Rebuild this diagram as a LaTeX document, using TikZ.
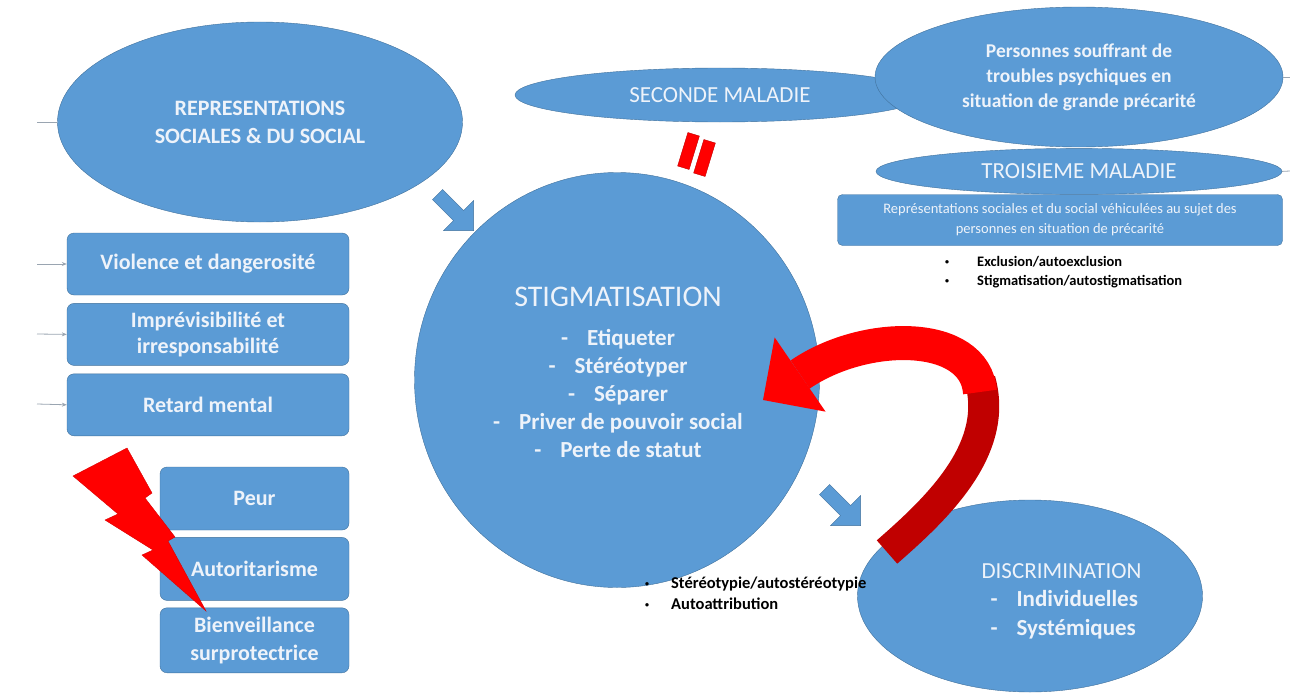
\documentclass[tikz,border=0pt]{standalone}
\usepackage{fontspec}
\setmainfont{Carlito}
\usetikzlibrary{positioning,shapes.geometric,shapes.arrows,arrows.meta}
\definecolor{bleuForme}{HTML}{5B9BD5}
\definecolor{bleuTrait}{HTML}{41719C}
\definecolor{texteClair}{HTML}{EEF3FA}
\definecolor{rougeVif}{HTML}{FF0000}
\definecolor{rougeSombre}{HTML}{C00000}
\definecolor{grisFil}{HTML}{9AA5B1}
\newcommand{\petitepuce}{\raisebox{1.5pt}{\fontsize{8}{8}\selectfont\textbullet}}

\begin{document}
\begin{tikzpicture}[x=1pt, y=-1pt, >={Stealth[length=5pt,width=4pt]},
  bulle/.style={ellipse, draw=bleuTrait, fill=bleuForme, text=texteClair, inner sep=0pt, align=center},
  boite/.style={draw=bleuTrait, fill=bleuForme, text=texteClair, rounded corners=7pt, inner sep=0pt, align=center, minimum width=282pt, minimum height=62pt, font=\fontsize{22}{26}\selectfont\bfseries},
  flecheBleue/.style={single arrow, draw=bleuTrait, fill=bleuForme, rotate=-45, minimum height=51pt, inner xsep=0pt, inner ysep=7pt, single arrow head extend=14pt},
  barre/.style={rectangle, draw=rougeSombre, fill=rougeVif, minimum width=12pt, minimum height=35pt, rotate=-17, inner sep=0pt},
  fil/.style={grisFil, line width=0.8pt},
  puce/.style={align=left, text=black, inner sep=0pt, anchor=west}]
\useasboundingbox (0,0) rectangle (1290,693);

% Représentations sociales
\node[bulle, minimum width=405pt, minimum height=200pt, font=\fontsize{22}{28}\selectfont\bfseries] (repres) at (260,122) {REPRESENTATIONS\\SOCIALES \& DU SOCIAL};

% Seconde / troisième maladie
\node[bulle, minimum width=410pt, minimum height=54pt, font=\fontsize{23}{28}\selectfont] (seconde) at (720,95) {SECONDE MALADIE};
\node[bulle, minimum width=408pt, minimum height=140pt, font=\fontsize{19.5}{25}\selectfont\bfseries] (personnes) at (1079,77) {Personnes souffrant de\\troubles psychiques en\\situation de grande précarité};
\node[bulle, minimum width=406pt, minimum height=46pt, font=\fontsize{23}{28}\selectfont, below=1pt of personnes] (troisieme) {TROISIEME MALADIE};
\node[boite, minimum width=445pt, minimum height=51pt, rounded corners=5pt, font=\fontsize{14.5}{20}\selectfont] (vehicule) at (1060,220) {Représentations sociales et du social véhiculées au sujet des\\personnes en situation de précarité};
\node[puce, font=\fontsize{14.5}{19}\selectfont\bfseries] (exclusion) at (945,272) {\petitepuce\hspace{28pt}Exclusion/autoexclusion\\\petitepuce\hspace{28pt}Stigmatisation/autostigmatisation};

% Stigmatisation
\node[bulle, minimum width=405pt, minimum height=415pt] (stigma) at (617,380) {};
\node[text=texteClair, font=\fontsize{30}{34}\selectfont] (stigtitre) at (618,297) {STIGMATISATION};
\node[text=texteClair, align=center, font=\fontsize{23}{28}\selectfont\bfseries, below=15pt of stigtitre] (stigliste) {-\hspace{19pt}Etiqueter\\-\hspace{19pt}Stéréotyper\\-\hspace{19pt}Séparer\\-\hspace{19pt}Priver de pouvoir social\\-\hspace{19pt}Perte de statut};

% Discrimination
\node[bulle, minimum width=345pt, minimum height=192pt] (discri) at (1030,596) {};
\node[text=texteClair, align=left, anchor=west, font=\fontsize{23}{28.5}\selectfont] (discritxt) at (978,601) {DISCRIMINATION\\\hspace{9pt}{\bfseries -\hspace{19pt}Individuelles}\\\hspace{9pt}{\bfseries -\hspace{19pt}Systémiques}};
\node[puce, font=\fontsize{16.5}{21}\selectfont\bfseries] (stereo) at (645,593) {\petitepuce\hspace{22pt}Stéréotypie/autostéréotypie\\\petitepuce\hspace{22pt}Autoattribution};

% Flèches bleues
\node[flecheBleue] (versStig) at (453,210) {};
\node[flecheBleue] (versDiscri) at (840,505) {};

% Signe égal
\node[barre] (egal1) at (688.5,151) {};
\node[barre] (egal2) at (704.5,158) {};

% Représentations (liste)
\node[boite] (violence) at (208,264) {Violence et dangerosité};
\node[boite, below=8pt of violence] (imprevis) {Imprévisibilité et\\irresponsabilité};
\node[boite, below=8pt of imprevis] (retard) {Retard mental};
\node[boite, minimum width=189pt, minimum height=63pt] (peur) at (254.5,498.5) {Peur};
\node[boite, minimum width=189pt, minimum height=63pt, below=7pt of peur] (autorit) {Autoritarisme};
\node[boite, minimum width=189pt, minimum height=65pt, font=\fontsize{22}{28}\selectfont\bfseries, below=7pt of autorit] (bienv) {Bienveillance\\surprotectrice};

% Eclair
\draw[fill=rougeVif, draw=rougeVif!85!black, line width=0.4pt] (73,476) -- (127,448) -- (152,493) -- (145,498) -- (175,537) -- (168,541) -- (206,611) -- (142,555) -- (153,550) -- (105,520) -- (118,514) -- cycle;

% Connexions
\coordinate (entreeR) at (37,122);
\coordinate (entreeV) at (37,264);
\coordinate (entreeI) at (37,334);
\coordinate (entreeM) at (37,404);
\coordinate (sortieP) at (1290,77);
\coordinate (sortieT) at (1290,171);
\draw[fil] (entreeR) -- (repres.west);
\draw[fil, ->] (entreeV) -- (violence.west);
\draw[fil, ->] (entreeI) -- (imprevis.west);
\draw[fil, ->] (entreeM) -- (retard.west);
\draw[fil] (personnes.east) -- (sortieP);
\draw[fil] (troisieme.east) -- (sortieT);

% Flèche rouge
\coordinate (queueRouge) at (887,552);
\coordinate (coude) at (980,380);
\coordinate (repli) at (980,392);
\coordinate (pointeRouge) at (763,400);
\draw[rougeSombre, line width=31pt] (queueRouge) .. controls (935,510) and (1000,450) .. (coude);
\draw[rougeVif, line width=34pt, -{Triangle[width=90pt, length=45pt, line width=0pt]}] (repli) .. controls (975,330) and (865,330) .. (pointeRouge);
\end{tikzpicture}
\end{document}
